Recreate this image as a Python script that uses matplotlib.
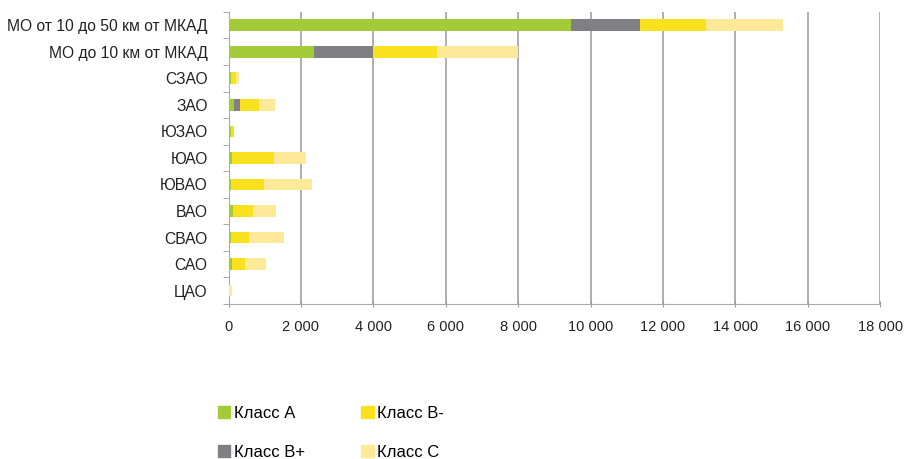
import numpy as np
import matplotlib.pyplot as plt
from matplotlib.patches import Patch

plt.rcParams['font.family'] = ['Liberation Sans', 'DejaVu Sans']

categories = ["МО от 10 до 50 км от МКАД", "МО до 10 км от МКАД", "СЗАО", "ЗАО", "ЮЗАО",
              "ЮАО", "ЮВАО", "ВАО", "СВАО", "САО", "ЦАО"]
class_a = [9455, 2350, 70, 160, 70, 110, 70, 130, 55, 90, 10]
class_bp = [1900, 1630, 0, 165, 0, 0, 0, 0, 0, 0, 0]
class_bm = [1830, 1770, 150, 510, 80, 1135, 920, 560, 500, 370, 0]
class_c = [2130, 2240, 60, 460, 0, 900, 1310, 620, 970, 570, 90]

series = [("Класс А", class_a, "#a3cb38"),
          ("Класс В+", class_bp, "#808084"),
          ("Класс В-", class_bm, "#fae11e"),
          ("Класс С", class_c, "#fde998")]

fig = plt.figure(figsize=(9.05, 4.59), dpi=100)
ax = fig.add_axes([0.2525, 0.338, 0.72, 0.636])

y = np.arange(len(categories))
left = np.zeros(len(categories))
for name, vals, col in series:
    ax.barh(y, vals, left=left, height=0.44, color=col, label=name, zorder=3)
    left += np.array(vals)

ax.set_ylim(len(categories) - 0.5, -0.5)
ax.set_xlim(0, 18000)
ax.set_xticks(np.arange(0, 18001, 2000))
ax.set_xticklabels(["0"] + [f"{v:,}".replace(",", " ") for v in range(2000, 18001, 2000)])
ax.set_yticks(y)
ax.set_yticklabels(categories)
ax.set_yticks(np.arange(-0.5, len(categories)), minor=True)
ax.tick_params(axis='y', which='major', length=0, pad=15, labelsize=11.25, labelcolor="#222222")
ax.tick_params(axis='y', which='minor', length=4, color="#999999")
ax.tick_params(axis='x', length=5, direction='inout', color="#999999", labelsize=10.5,
               labelcolor="#222222", pad=9)

ax.grid(axis='x', color="#a8a8a8", linewidth=1.3, zorder=0)
for s in ["top", "right"]:
    ax.spines[s].set_visible(False)
ax.spines["left"].set_color("#aaaaaa")
ax.spines["bottom"].set_color("#aaaaaa")

handles = [Patch(color=c, label=n) for n, _, c in series]
fig.legend(handles=handles, ncol=2, loc='upper left', bbox_to_anchor=(0.2315, 0.134),
           frameon=False, fontsize=12, handlelength=0.75, handleheight=0.75,
           handletextpad=0.2, columnspacing=3.4, labelspacing=1.45, borderpad=0)

fig.savefig("out.png", dpi=100)
